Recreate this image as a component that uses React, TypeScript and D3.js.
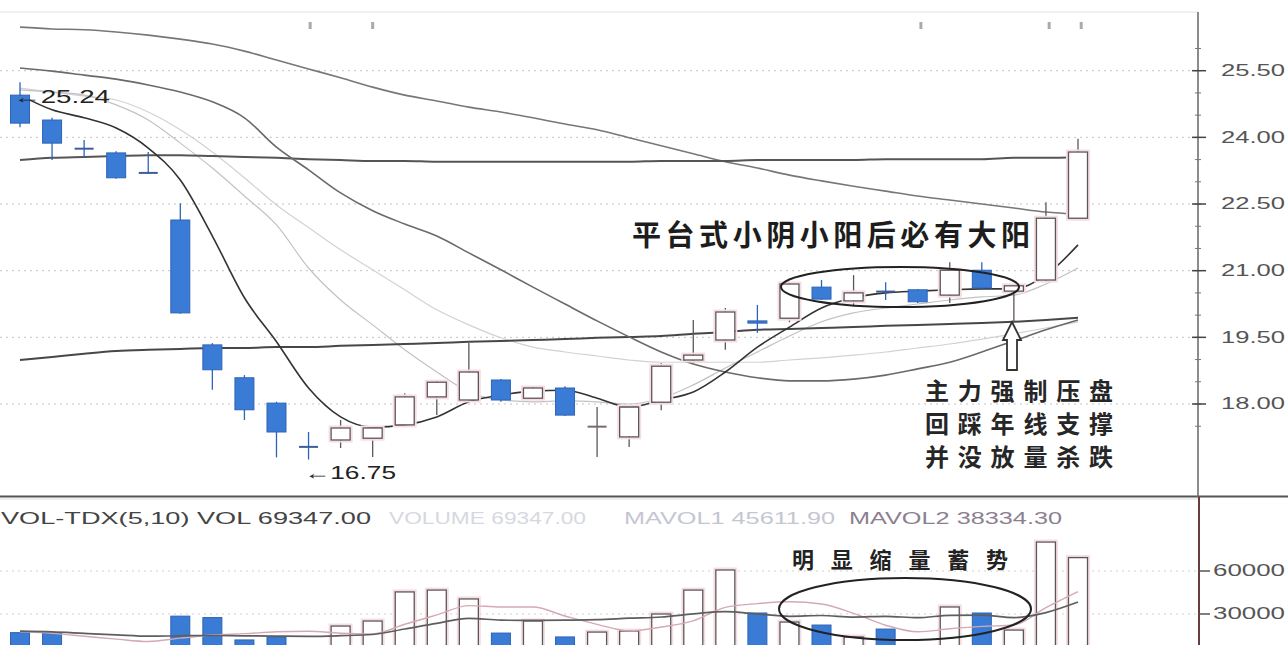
import React from "react";
import * as d3 from "d3";

const W = 1288;
const H = 645;

// ---- candle data (price) ----
const opens = [24.95, 24.39, 23.76, 23.65, 23.21, 22.14, 19.33, 18.59, 18.02, 17.05, 17.19, 17.23, 17.53, 18.16, 18.09, 18.54, 18.13, 18.36, 17.48, 17.26, 18.04, 18.99, 19.44, 19.87, 19.93, 20.63, 20.32, 20.54, 20.57, 20.45, 21.01, 20.54, 20.79, 22.18];
const highs = [25.24, 24.44, 23.94, 23.69, 23.67, 22.52, 19.37, 18.65, 18.05, 17.37, 17.64, 17.47, 18.24, 18.54, 19.37, 18.56, 18.4, 18.4, 17.93, 17.98, 18.92, 19.89, 20.16, 20.23, 20.74, 20.79, 20.9, 20.74, 20.59, 21.19, 21.19, 20.7, 22.54, 23.97];
const lows = [24.23, 23.49, 23.54, 23.07, 23.18, 20.03, 18.32, 17.64, 16.8, 16.75, 17.01, 16.81, 17.51, 17.75, 18.07, 18.05, 18.09, 17.73, 16.81, 17.03, 17.86, 18.94, 19.22, 19.6, 19.84, 20.34, 20.21, 20.34, 20.27, 20.27, 20.57, 19.84, 20.75, 22.18];
const closes = [24.32, 23.87, 23.73, 23.09, 23.19, 20.05, 18.77, 17.87, 17.37, 17.02, 17.46, 17.46, 18.16, 18.49, 18.72, 18.09, 18.36, 17.75, 17.5, 17.93, 18.85, 19.1, 20.07, 19.82, 20.7, 20.36, 20.5, 20.52, 20.3, 21.01, 20.61, 20.66, 22.18, 23.67];

// ---- moving average lines (price) ----
const maTop = [26.48, 26.44, 26.42, 26.37, 26.3, 26.21, 26.1, 25.94, 25.74, 25.54, 25.34, 25.13, 24.95, 24.82, 24.68, 24.57, 24.44, 24.3, 24.17, 23.99, 23.81, 23.63, 23.45, 23.31, 23.15, 23.02, 22.9, 22.79, 22.68, 22.59, 22.5, 22.41, 22.32, 22.27];
const maFlatHigh = [23.49, 23.54, 23.56, 23.58, 23.6, 23.6, 23.58, 23.56, 23.54, 23.51, 23.49, 23.47, 23.47, 23.45, 23.45, 23.45, 23.45, 23.45, 23.45, 23.45, 23.47, 23.47, 23.47, 23.49, 23.49, 23.49, 23.49, 23.51, 23.51, 23.51, 23.51, 23.54, 23.54, 23.56];
const maYear = [18.99, 19.06, 19.13, 19.19, 19.22, 19.24, 19.26, 19.26, 19.28, 19.28, 19.31, 19.33, 19.35, 19.37, 19.4, 19.42, 19.44, 19.46, 19.49, 19.51, 19.53, 19.58, 19.62, 19.67, 19.69, 19.71, 19.73, 19.76, 19.78, 19.8, 19.82, 19.85, 19.89, 19.94];
const maBowl = [25.56, 25.49, 25.4, 25.31, 25.18, 25.02, 24.8, 24.44, 23.78, 23.27, 22.75, 22.35, 22.05, 21.78, 21.4, 21.02, 20.63, 20.25, 19.87, 19.51, 19.17, 18.9, 18.72, 18.59, 18.52, 18.52, 18.56, 18.65, 18.79, 18.94, 19.17, 19.42, 19.67, 19.89];
const maShort = [24.95, 24.62, 24.44, 24.21, 23.76, 23.04, 21.78, 20.39, 19.4, 18.36, 17.71, 17.48, 17.53, 17.71, 18.05, 18.2, 18.29, 18.31, 18.13, 17.93, 18.09, 18.27, 18.72, 19.28, 19.73, 20.16, 20.39, 20.5, 20.54, 20.57, 20.59, 20.59, 20.9, 21.58];
const maMid = [25.07, 25.02, 24.95, 24.73, 24.39, 23.87, 23.31, 22.68, 22.03, 21.06, 20.34, 19.78, 19.22, 18.72, 18.27, 18.09, 18.05, 18.07, 18.05, 18.0, 18.13, 18.43, 18.81, 19.17, 19.53, 19.85, 20.05, 20.16, 20.25, 20.34, 20.41, 20.45, 20.7, 21.06];
const maLong = [25.11, 25.02, 24.93, 24.84, 24.57, 24.17, 23.67, 23.09, 22.48, 21.97, 21.47, 21.02, 20.57, 20.12, 19.78, 19.49, 19.28, 19.17, 19.08, 18.99, 18.94, 18.94, 18.94, 18.94, 18.99, 19.04, 19.1, 19.17, 19.26, 19.35, 19.46, 19.58, 19.71, 19.85];

// ---- volume ----
const volumes = [17000, 16700, 7000, 7500, 6000, 28500, 27500, 11900, 14000, 8000, 21600, 25100, 45400, 46700, 40500, 16700, 25100, 14000, 17400, 18100, 30000, 46700, 60700, 30700, 24400, 22300, 14000, 19500, 7700, 34900, 30700, 18800, 80200, 69347];
const volMa5 = [17500, 16500, 14500, 12500, 10840, 13140, 15300, 16280, 17580, 17980, 16600, 16120, 22820, 29360, 35860, 34880, 34880, 28600, 22740, 18260, 20920, 25240, 34580, 37240, 38500, 36960, 30420, 22180, 17580, 19680, 21360, 22320, 34460, 45612];
const volMa10 = [18000, 17500, 16500, 15500, 14500, 14800, 15000, 14800, 14600, 14410, 14870, 15710, 19550, 23470, 26920, 25740, 25500, 25710, 26050, 27060, 27900, 30060, 31590, 29990, 28380, 28940, 27830, 28380, 27410, 29090, 29160, 27500, 31000, 38334];

// ---- ticks / labels ----
const priceTicks = [18, 19.5, 21, 22.5, 24, 25.5];
const volTicks = [30000, 60000];
const topMarks = [9.05, 11.0, 28.1, 32.1, 33.1];
const volHeader = "VOL-TDX(5,10) VOL 69347.00";
const volHeaderFaint = "VOLUME 69347.00";
const mavol1Label = "MAVOL1 45611.90";
const mavol2Label = "MAVOL2 38334.30";
const highLabel = "←25.24";
const lowLabel = "←16.75";
const titleText = "平台式小阴小阳后必有大阳";
const noteLines = ["主力强制压盘", "回踩年线支撑", "并没放量杀跌"];
const volNote = "明显缩量蓄势";

const BLUE = "#3a7bd5";
const BLUE_EDGE = "#2d64b5";
const UP_EDGE = "#5f5558";
const CJK = "'Noto Sans CJK SC', sans-serif";
const LAT = "'Liberation Sans', Arial, sans-serif";

export default function App() {
  const n = opens.length;
  const x = d3.scaleLinear().domain([0, n - 1]).range([20, 1078]);
  const y = d3.scaleLinear().domain([18, 25.5]).range([404, 70.7]);
  const yv = d3.scaleLinear().domain([0, 60000]).range([657, 571]);
  const bw = 19;

  const mkLine = (vals: number[], sc: d3.ScaleLinear<number, number>) =>
    d3
      .line<number>()
      .x((_, i) => x(i))
      .y((d) => sc(d))
      .curve(d3.curveMonotoneX)(vals) || "";

  const priceLines = [
    { d: maLong, c: "#d2d2d2", w: 1.2 },
    { d: maMid, c: "#c2c2c2", w: 1.2 },
    { d: maTop, c: "#777", w: 1.6 },
    { d: maFlatHigh, c: "#555", w: 2 },
    { d: maYear, c: "#474747", w: 2 },
    { d: maBowl, c: "#6a6a6a", w: 1.6 },
    { d: maShort, c: "#333", w: 1.6 },
  ];

  const idx = d3.range(n);

  return (
    <svg
      width={W}
      height={H}
      viewBox={`0 0 ${W} ${H}`}
      style={{ position: "absolute", left: 0, top: 0, background: "#fff", display: "block" }}
    >
      <defs>
        <clipPath id="priceClip">
          <rect x={0} y={12} width={1197} height={483} />
        </clipPath>
        <clipPath id="volClip">
          <rect x={0} y={499} width={1197} height={146} />
        </clipPath>
      </defs>
      <rect x={0} y={0} width={W} height={H} fill="#fff" />

      {/* top faint border */}
      <line x1={0} x2={1198} y1={12} y2={12} stroke="#e2e2e2" strokeWidth={1} />
      {topMarks.map((t, i) => (
        <rect key={i} x={x(t) - 1.5} y={22} width={3} height={7} fill="#aaa" />
      ))}

      {/* price gridlines */}
      {priceTicks.map((t) => (
        <line key={t} x1={0} x2={1196} y1={y(t)} y2={y(t)} stroke="#c4c4c4" strokeWidth={1} strokeDasharray="2,4" />
      ))}
      {volTicks.map((t) => (
        <line key={t} x1={0} x2={1196} y1={yv(t)} y2={yv(t)} stroke="#d0d0d0" strokeWidth={1} strokeDasharray="2,4" />
      ))}

      <g clipPath="url(#priceClip)">
        {priceLines.map((l, i) => (
          <path key={i} d={mkLine(l.d, y)} fill="none" stroke={l.c} strokeWidth={l.w} />
        ))}

        {/* candles */}
        {idx.map((i) => {
          const up = closes[i] >= opens[i];
          const cx = x(i);
          const yo = y(opens[i]);
          const yc = y(closes[i]);
          const top = Math.min(yo, yc);
          const h = Math.abs(yo - yc);
          const edge = up ? UP_EDGE : BLUE_EDGE;
          return (
            <g key={i}>
              <line x1={cx} x2={cx} y1={y(highs[i])} y2={y(lows[i])} stroke={edge} strokeWidth={1.3} />
              {h < 2 ? (
                <line x1={cx - bw / 2} x2={cx + bw / 2} y1={top + h / 2} y2={top + h / 2} stroke={up ? "#7a6a6e" : "#3a5f99"} strokeWidth={2} />
              ) : up ? (
                <g>
                  <rect x={cx - bw / 2 - 1.5} y={top - 1.5} width={bw + 3} height={h + 3} fill="none" stroke="#f6dde2" strokeWidth={2} />
                  <rect x={cx - bw / 2} y={top} width={bw} height={h} fill="#fff" stroke={edge} strokeWidth={1.3} />
                </g>
              ) : (
                <rect x={cx - bw / 2} y={top} width={bw} height={h} fill={BLUE} stroke={edge} strokeWidth={1} />
              )}
            </g>
          );
        })}
      </g>

      {/* high / low labels */}
      <text x={13} y={98} fontFamily={LAT} fontSize={18} fill="#222" dominantBaseline="middle" textLength={97} lengthAdjust="spacingAndGlyphs">
        {highLabel}
      </text>
      <text x={304} y={474} fontFamily={LAT} fontSize={18} fill="#222" dominantBaseline="middle" textLength={92} lengthAdjust="spacingAndGlyphs">
        {lowLabel}
      </text>

      {/* platform ellipse */}
      <ellipse cx={900} cy={287} rx={119} ry={20} fill="none" stroke="#222" strokeWidth={2} />

      {/* title */}
      <text x={632} y={238} fontFamily={CJK} fontSize={29} fontWeight={700} fill="#1d1d1d" dominantBaseline="middle" textLength={398} lengthAdjust="spacing">
        {titleText}
      </text>

      {/* arrow */}
      <path d="M1012,322 L1021,340 L1017,340 L1017,370 L1007,370 L1007,340 L1003,340 Z" fill="#fff" stroke="#333" strokeWidth={1.8} />

      {noteLines.map((t, i) => (
        <text key={i} x={925} y={393 + i * 33} fontFamily={CJK} fontSize={24} fontWeight={700} fill="#262626" dominantBaseline="middle" textLength={188} lengthAdjust="spacing">
          {t}
        </text>
      ))}

      {/* separator */}
      <line x1={0} x2={W} y1={496.5} y2={496.5} stroke="#555" strokeWidth={2} />
      <line x1={0} x2={1198} y1={499} y2={499} stroke="#ddd" strokeWidth={1} />

      {/* volume panel */}
      <g clipPath="url(#volClip)">
        {idx.map((i) => {
          const up = closes[i] >= opens[i];
          const cx = x(i);
          const top = yv(volumes[i]);
          return up ? (
            <g key={i}>
              <rect x={cx - bw / 2 - 1.5} y={top - 1.5} width={bw + 3} height={660 - top} fill="none" stroke="#f6dde2" strokeWidth={2} />
              <rect x={cx - bw / 2} y={top} width={bw} height={660 - top} fill="#fff" stroke={UP_EDGE} strokeWidth={1.3} />
            </g>
          ) : (
            <rect key={i} x={cx - bw / 2} y={top} width={bw} height={660 - top} fill={BLUE} stroke={BLUE_EDGE} strokeWidth={1} />
          );
        })}
        <path d={mkLine(volMa5, yv)} fill="none" stroke="#d3aab4" strokeWidth={1.4} />
        <path d={mkLine(volMa10, yv)} fill="none" stroke="#5e5e5e" strokeWidth={1.7} />
      </g>

      {/* volume header */}
      <text x={1} y={520} fontFamily={LAT} fontSize={17} fill="#444" dominantBaseline="middle" textLength={370} lengthAdjust="spacingAndGlyphs">
        {volHeader}
      </text>
      <text x={389} y={520} fontFamily={LAT} fontSize={17} fill="#d6d8e0" dominantBaseline="middle" textLength={197} lengthAdjust="spacingAndGlyphs">
        {volHeaderFaint}
      </text>
      <text x={624} y={520} fontFamily={LAT} fontSize={17} fill="#c4c6d2" dominantBaseline="middle" textLength={211} lengthAdjust="spacingAndGlyphs">
        {mavol1Label}
      </text>
      <text x={849} y={520} fontFamily={LAT} fontSize={17} fill="#8c7f90" dominantBaseline="middle" textLength={213} lengthAdjust="spacingAndGlyphs">
        {mavol2Label}
      </text>

      {/* volume annotation */}
      <ellipse cx={905} cy={609} rx={126} ry={31} fill="none" stroke="#222" strokeWidth={2} />
      <text x={792} y={562} fontFamily={CJK} fontSize={22} fontWeight={700} fill="#222" dominantBaseline="middle" textLength={216} lengthAdjust="spacing">
        {volNote}
      </text>

      {/* right axis */}
      <line x1={1198} x2={1198} y1={12} y2={497} stroke="#666" strokeWidth={1.5} />
      <line x1={1199} x2={1199} y1={497} y2={H} stroke="#6a3b3b" strokeWidth={2} />
      {d3.range(17.5, 26.01, 0.5).map((t) => (
        <line key={t} x1={1195} x2={1201} y1={y(t)} y2={y(t)} stroke="#777" strokeWidth={1} />
      ))}
      {priceTicks.map((t) => (
        <g key={t}>
          <line x1={1192} x2={1206} y1={y(t)} y2={y(t)} stroke="#444" strokeWidth={1.5} />
          <text x={1221} y={y(t) + 1} fontFamily={LAT} fontSize={16} fill="#555" dominantBaseline="middle" textLength={64} lengthAdjust="spacingAndGlyphs">
            {d3.format(".2f")(t)}
          </text>
        </g>
      ))}
      {volTicks.map((t) => (
        <g key={t}>
          <line x1={1199} x2={1210} y1={yv(t)} y2={yv(t)} stroke="#555" strokeWidth={1.5} />
          <text x={1213} y={yv(t) + 1} fontFamily={LAT} fontSize={16} fill="#555" dominantBaseline="middle" textLength={72} lengthAdjust="spacingAndGlyphs">
            {d3.format("d")(t)}
          </text>
        </g>
      ))}
    </svg>
  );
}
